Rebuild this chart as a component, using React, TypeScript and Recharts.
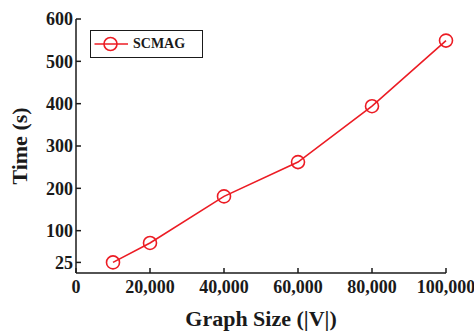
import React from 'react';
import { LineChart, Line, XAxis, YAxis, Legend } from 'recharts';

const graphSizes = [10000, 20000, 40000, 60000, 80000, 100000];
const scmagTimes = [25, 71, 181, 262, 394, 549];
const xTicks = [0, 20000, 40000, 60000, 80000, 100000];
const yTicks = [25, 100, 200, 300, 400, 500, 600];
const seriesName = 'SCMAG';

const data = graphSizes.map((g, i) => ({ g, t: scmagTimes[i] }));

const RED = '#ec1c24';
const INK = '#1a1a1a';
const FONT = '"Liberation Serif", "Times New Roman", serif';

const tickStyle = { fontFamily: FONT, fontWeight: 700, fontSize: 18, fill: INK };

const fmtX = (v: number) => v.toLocaleString('en-US');

const renderLegend = () => (
  <div
    style={{
      width: 113,
      height: 28,
      border: `1.5px solid ${INK}`,
      boxSizing: 'border-box',
      background: '#fff',
      display: 'flex',
      alignItems: 'center',
    }}
  >
    <svg width={40} height={24} style={{ display: 'block' }}>
      <line x1={3.5} x2={37} y1={12} y2={12} stroke={RED} strokeWidth={1.6} />
      <circle cx={19.5} cy={12} r={6.5} fill="none" stroke={RED} strokeWidth={1.6} />
    </svg>
    <span style={{ fontFamily: FONT, fontWeight: 700, fontSize: 14, color: INK, marginLeft: 2, lineHeight: '14px' }}>
      {seriesName}
    </span>
  </div>
);

const XLabel = (props: any) => {
  const vb = props.viewBox;
  return (
    <text x={vb.x + vb.width / 2} y={vb.y + 53} textAnchor="middle" style={{ fontFamily: FONT, fontWeight: 700, fontSize: 22, fill: INK }}>
      Graph Size (|V|)
    </text>
  );
};

const YLabel = (props: any) => {
  const vb = props.viewBox;
  const x = vb.x + 26.5;
  const y = vb.y + vb.height / 2;
  return (
    <text x={x} y={y} transform={`rotate(-90 ${x} ${y})`} textAnchor="middle" style={{ fontFamily: FONT, fontWeight: 700, fontSize: 22, fill: INK }}>
      Time (s)
    </text>
  );
};

export default function App() {
  return (
    <div style={{ position: 'absolute', left: 0, top: 0, width: 474, height: 332, background: '#fff' }}>
      <LineChart width={474} height={332} data={data} margin={{ top: 19, right: 28, bottom: 0, left: 0 }}>
        <XAxis
          dataKey="g"
          type="number"
          domain={[0, 100000]}
          ticks={xTicks}
          tickFormatter={fmtX}
          height={59}
          tickSize={-5}
          tickMargin={12}
          tick={tickStyle}
          stroke={INK}
          strokeWidth={1.5}
          label={<XLabel />}
          interval={0}
        />
        <XAxis
          xAxisId="top"
          orientation="top"
          dataKey="g"
          type="number"
          domain={[0, 100000]}
          ticks={xTicks}
          tickFormatter={() => ''}
          height={0}
          tickSize={-5}
          stroke={INK}
          strokeWidth={1.5}
          interval={0}
        />
        <YAxis
          type="number"
          domain={[0, 600]}
          ticks={yTicks}
          width={76}
          tickSize={-5}
          tickMargin={8}
          tick={tickStyle}
          stroke={INK}
          strokeWidth={1.5}
          label={<YLabel />}
          interval={0}
        />
        <YAxis
          yAxisId="right"
          orientation="right"
          type="number"
          domain={[0, 600]}
          ticks={yTicks}
          width={0}
          tickSize={-5}
          tickFormatter={() => ''}
          stroke={INK}
          strokeWidth={1.5}
          interval={0}
        />
        <Legend
          layout="horizontal"
          verticalAlign="middle"
          align="center"
          content={renderLegend}
          wrapperStyle={{ left: 90, top: 30, width: 113, height: 28 }}
        />
        <Line
          dataKey="t"
          name={seriesName}
          stroke={RED}
          strokeWidth={1.6}
          dot={{ r: 6.5, fill: 'none', stroke: RED, strokeWidth: 1.6 }}
          activeDot={false}
          isAnimationActive={false}
        />
      </LineChart>
    </div>
  );
}
